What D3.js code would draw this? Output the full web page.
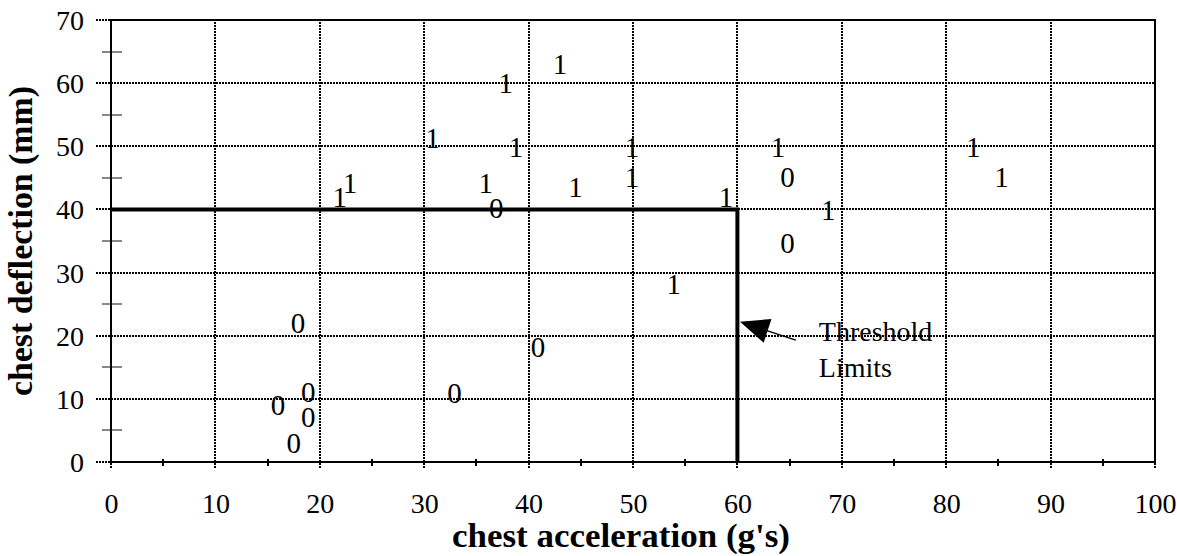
<!DOCTYPE html>
<html>
<head>
<meta charset="utf-8">
<script src="https://cdn.jsdelivr.net/npm/d3@7"></script>
<style>
  body { margin: 0; background: #fff; }
  svg text { font-family: "Liberation Serif", "Times New Roman", serif; fill: #000; }
</style>
</head>
<body>
<div id="chart"></div>
<script>
// data: chest acceleration (g's), chest deflection (mm), outcome label
var accel = [21.9, 22.9, 43.0, 37.8, 30.8, 38.8, 49.9, 63.9, 49.9, 35.9, 44.5, 36.9, 58.9,
             64.8, 64.8, 82.6, 85.3, 68.7, 17.9, 18.9, 16.0, 18.9, 17.5, 53.9, 40.9, 32.9];
var deflection = [42.0, 44.2, 63.0, 60.0, 51.3, 49.9, 49.9, 49.9, 45.1, 44.2, 43.6, 40.2, 42.0,
                  45.1, 34.7, 49.9, 45.1, 39.9, 22.0, 11.1, 9.0, 7.1, 3.0, 28.2, 18.2, 10.9];
var outcome = ["1", "1", "1", "1", "1", "1", "1", "1", "1", "1", "1", "0", "1",
               "0", "0", "1", "1", "1", "0", "0", "0", "0", "0", "1", "0", "0"];

var xTicks = [0, 10, 20, 30, 40, 50, 60, 70, 80, 90, 100];
var yTicks = [0, 10, 20, 30, 40, 50, 60, 70];
var xMinor = [5, 15, 25, 35, 45, 55, 65, 75, 85, 95];
var yMinor = [5, 15, 25, 35, 45, 55, 65];

// threshold limit box (acceleration 60, deflection 40)
var limitX = [0, 60, 60];
var limitY = [40, 40, 0];

// annotation arrow (tail -> tip) and text
var arrowX = [65.6, 60.25];
var arrowY = [19.3, 22.2];
var noteLines = ["Threshold", "Limits"];
var noteX = 67.8, noteY = 19.2;

var W = 1177, H = 556;
var margin = {top: 20, right: 22, bottom: 94, left: 111};
var width = W - margin.left - margin.right,
    height = H - margin.top - margin.bottom;

var svg = d3.select("#chart").append("svg")
    .attr("width", W).attr("height", H);

var g = svg.append("g")
    .attr("transform", "translate(" + margin.left + "," + margin.top + ")");

var x = d3.scaleLinear().domain([0, 100]).range([0, width]);
var y = d3.scaleLinear().domain([0, 70]).range([height, 0]);
var xr = function(v) { return Math.round(x(v)); };
var yr = function(v) { return Math.round(y(v)); };

// vertical grid, running a bit below the axis like the original ticks
g.append("g")
    .attr("class", "xgrid")
    .attr("transform", "translate(0," + (height + 6) + ")")
    .call(d3.axisBottom(x).tickValues(xTicks).tickSize(-(height + 6)).tickSizeOuter(0).tickFormat(""))
    .call(function(s) { s.select(".domain").remove(); });

// horizontal grid, running out to the left of the axis
g.append("g")
    .attr("class", "ygrid")
    .attr("transform", "translate(-15,0)")
    .call(d3.axisLeft(y).tickValues(yTicks).tickSize(-(width + 15)).tickSizeOuter(0).tickFormat(""))
    .call(function(s) { s.select(".domain").remove(); });

g.selectAll(".xgrid .tick").attr("transform", function(d) { return "translate(" + xr(d) + ",0)"; });
g.selectAll(".ygrid .tick").attr("transform", function(d) { return "translate(0," + yr(d) + ")"; });
g.selectAll(".xgrid line, .ygrid line")
    .attr("stroke", "#000")
    .attr("stroke-width", 2)
    .attr("stroke-dasharray", "2,1")
    .attr("shape-rendering", "crispEdges");

// minor ticks
g.selectAll(".yminor").data(yMinor).enter().append("line")
    .attr("class", "yminor")
    .attr("x1", -9).attr("x2", 11)
    .attr("y1", function(d) { return yr(d); }).attr("y2", function(d) { return yr(d); })
    .attr("stroke", "#888").attr("stroke-width", 2)
    .attr("shape-rendering", "crispEdges");

g.selectAll(".xminor").data(xMinor).enter().append("line")
    .attr("class", "xminor")
    .attr("x1", function(d) { return xr(d); }).attr("x2", function(d) { return xr(d); })
    .attr("y1", height - 3).attr("y2", height + 4)
    .attr("stroke", "#000").attr("stroke-width", 2)
    .attr("shape-rendering", "crispEdges");

// frame
g.append("rect")
    .attr("x", 0).attr("y", 0)
    .attr("width", width).attr("height", height)
    .attr("fill", "none")
    .attr("stroke", "#000")
    .attr("stroke-width", 2)
    .attr("shape-rendering", "crispEdges");

// tick labels
var xAxis = g.append("g")
    .attr("transform", "translate(0," + height + ")")
    .call(d3.axisBottom(x).tickValues(xTicks).tickSize(0).tickPadding(40));
var yAxis = g.append("g")
    .call(d3.axisLeft(y).tickValues(yTicks).tickSize(0).tickPadding(27));
[xAxis, yAxis].forEach(function(a) {
  a.attr("font-family", null).attr("font-size", null);
  a.select(".domain").remove();
  a.selectAll("text")
    .attr("font-size", 28)
    .attr("fill", "#000");
});
xAxis.selectAll("text").attr("dy", 0).attr("y", 51);
yAxis.selectAll("text").attr("dy", "0.34em");

// threshold lines
var limitLine = d3.line()
    .x(function(d, i) { return x(limitX[i]); })
    .y(function(d, i) { return y(limitY[i]); });
g.append("path")
    .attr("d", limitLine(limitX))
    .attr("fill", "none")
    .attr("stroke", "#000")
    .attr("stroke-width", 4);

// data labels (0 / 1) centred on each point
g.selectAll(".pt").data(accel).enter().append("text")
    .attr("class", "pt")
    .attr("x", function(d) { return x(d); })
    .attr("y", function(d, i) { return y(deflection[i]); })
    .attr("dy", "0.34em")
    .attr("text-anchor", "middle")
    .attr("font-size", 29)
    .text(function(d, i) { return outcome[i]; });

// annotation arrow
var tail = [x(arrowX[0]), y(arrowY[0])], tip = [x(arrowX[1]), y(arrowY[1])];
var dx = tail[0] - tip[0], dy = tail[1] - tip[1];
var len = Math.sqrt(dx * dx + dy * dy);
var ux = dx / len, uy = dy / len;
var headLen = 29, headHalf = 12.5;
var base = [tip[0] + ux * headLen, tip[1] + uy * headLen];
g.append("line")
    .attr("x1", base[0] - ux * 4).attr("y1", base[1] - uy * 4)
    .attr("x2", tail[0]).attr("y2", tail[1])
    .attr("stroke", "#000").attr("stroke-width", 1.5);
g.append("path")
    .attr("d", "M" + tip[0] + "," + tip[1] +
               "L" + (base[0] - uy * headHalf) + "," + (base[1] + ux * headHalf) +
               "L" + (base[0] + uy * headHalf) + "," + (base[1] - ux * headHalf) + "Z")
    .attr("fill", "#000");

g.selectAll(".note").data(noteLines).enter().append("text")
    .attr("class", "note")
    .attr("x", x(noteX))
    .attr("y", function(d, i) { return y(noteY) + i * 36; })
    .attr("font-size", 28)
    .text(function(d) { return d; });

// axis titles
svg.append("text")
    .attr("x", 621).attr("y", 547)
    .attr("text-anchor", "middle")
    .attr("font-weight", "bold")
    .attr("font-size", 34)
    .attr("textLength", 338)
    .attr("lengthAdjust", "spacingAndGlyphs")
    .text("chest acceleration (g's)");

svg.append("text")
    .attr("transform", "translate(32," + (margin.top + height / 2) + ") rotate(-90)")
    .attr("text-anchor", "middle")
    .attr("font-weight", "bold")
    .attr("font-size", 33)
    .attr("textLength", 310)
    .attr("lengthAdjust", "spacingAndGlyphs")
    .text("chest deflection (mm)");
</script>
</body>
</html>
